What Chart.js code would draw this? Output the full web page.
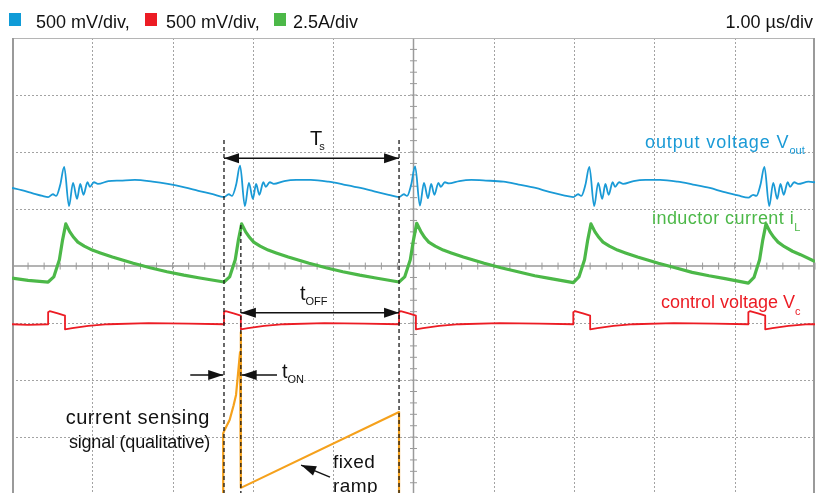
<!DOCTYPE html>
<html>
<head>
<meta charset="utf-8">
<script src="https://cdn.jsdelivr.net/npm/chart.js@4.4.0/dist/chart.umd.min.js"></script>
<style>
  body { margin: 0; background: #fff; }
  #wrap { position: relative; width: 818px; height: 493px; overflow: hidden;
          font-family: "Liberation Sans", Arial, Helvetica, sans-serif; color: #111; }
  canvas { position: absolute; left: 0; top: 0; }
  .lbl { position: absolute; white-space: nowrap; line-height: 1; }
  .lbl sub { font-size: 11px; vertical-align: baseline; position: relative; letter-spacing: 0; }
  .sq { position: absolute; width: 12px; height: 13px; top: 13px; }
  .hdr { font-size: 18px; top: 13px; }
  .ann { font-size: 18px; letter-spacing: 0.9px; }
  .big { font-size: 20px; }
</style>
</head>
<body>
<div id="wrap">
  <canvas id="scope" width="818" height="493"></canvas>

  <!-- header -->
  <div class="sq" style="left:9px;background:#0f9bd7"></div>
  <div class="lbl hdr" style="left:36px">500 mV/div,</div>
  <div class="sq" style="left:145px;background:#ec1c24"></div>
  <div class="lbl hdr" style="left:166px">500 mV/div,</div>
  <div class="sq" style="left:274px;background:#4cb848"></div>
  <div class="lbl hdr" style="left:293px">2.5A/div</div>
  <div class="lbl hdr" style="right:5px">1.00 &micro;s/div</div>

  <!-- trace names -->
  <div class="lbl ann" style="left:645px;top:133px;color:#1a9ad6">output voltage V<sub style="top:6px">out</sub></div>
  <div class="lbl ann" style="left:652px;top:209px;color:#4cb848;letter-spacing:0.45px">inductor current i<sub style="top:7px">L</sub></div>
  <div class="lbl ann" style="left:661px;top:293px;color:#ec1c24;letter-spacing:0px">control voltage V<sub style="top:7px">c</sub></div>

  <!-- timing marks -->
  <div class="lbl big" style="left:310px;top:128px">T<sub style="top:5px;margin-left:-3px">s</sub></div>
  <div class="lbl big" style="left:300px;top:283px">t<sub style="top:5px">OFF</sub></div>
  <div class="lbl big" style="left:282px;top:361px">t<sub style="top:5px">ON</sub></div>

  <!-- sensing signal notes -->
  <div class="lbl ann" style="right:608px;top:407px;letter-spacing:0.5px;font-size:20px">current sensing</div>
  <div class="lbl ann" style="right:608px;top:433px;letter-spacing:-0.2px;font-size:18px">signal (qualitative)</div>
  <div class="lbl ann" style="left:333px;top:452px;font-size:19px;letter-spacing:0.4px">fixed</div>
  <div class="lbl ann" style="left:333px;top:476px;font-size:19px;letter-spacing:0.4px">ramp</div>
</div>

<script>
// time in us (1 us/div), level in divisions (0 = screen centre)
const vOut = [
  [0, 1.37], [0.12, 1.33], [0.25, 1.28], [0.38, 1.23],
  [0.45, 1.21], [0.51, 1.26], [0.55, 1.23], [0.60, 1.42], [0.65, 1.74], [0.71, 1.05], [0.76, 1.46], [0.81, 1.18],
  [0.85, 1.44], [0.89, 1.25], [0.94, 1.47], [0.97, 1.39], [1.02, 1.47], [1.07, 1.44], [1.20, 1.49], [1.35, 1.50],
  [1.53, 1.51], [1.75, 1.48], [1.94, 1.44], [2.15, 1.38], [2.32, 1.32], [2.50, 1.26],
  [2.64, 1.21], [2.70, 1.26], [2.74, 1.23], [2.79, 1.42], [2.84, 1.76], [2.90, 1.05], [2.95, 1.46], [3.00, 1.18],
  [3.04, 1.44], [3.08, 1.25], [3.13, 1.47], [3.16, 1.39], [3.21, 1.47], [3.26, 1.44], [3.39, 1.49], [3.54, 1.51],
  [3.72, 1.51], [3.94, 1.48], [4.13, 1.43], [4.34, 1.37], [4.51, 1.31], [4.69, 1.25],
  [4.82, 1.21], [4.88, 1.26], [4.92, 1.23], [4.97, 1.42], [5.02, 1.75], [5.08, 1.06], [5.13, 1.46], [5.18, 1.19],
  [5.22, 1.44], [5.26, 1.25], [5.31, 1.46], [5.34, 1.39], [5.39, 1.47], [5.44, 1.45], [5.57, 1.49], [5.72, 1.51],
  [5.90, 1.50], [6.12, 1.48], [6.31, 1.43], [6.52, 1.37], [6.69, 1.30], [6.87, 1.24],
  [6.99, 1.21], [7.05, 1.26], [7.09, 1.23], [7.14, 1.42], [7.19, 1.74], [7.25, 1.05], [7.30, 1.46], [7.35, 1.18],
  [7.39, 1.44], [7.43, 1.25], [7.48, 1.47], [7.51, 1.39], [7.56, 1.47], [7.61, 1.44], [7.74, 1.49], [7.89, 1.51],
  [8.07, 1.51], [8.29, 1.48], [8.48, 1.43], [8.69, 1.37], [8.86, 1.30], [9.04, 1.24],
  [9.17, 1.20], [9.23, 1.25], [9.27, 1.23], [9.32, 1.42], [9.37, 1.74], [9.43, 1.05], [9.48, 1.46], [9.53, 1.18],
  [9.57, 1.44], [9.61, 1.25], [9.66, 1.47], [9.69, 1.39], [9.74, 1.47], [9.79, 1.44], [9.92, 1.48], [10, 1.47]
];

const iL = [
  [0, -0.21], [0.2, -0.25], [0.45, -0.28],
  [0.52, -0.19], [0.59, 0.11], [0.63, 0.46], [0.67, 0.74], [0.72, 0.60], [0.77, 0.50], [0.82, 0.42], [0.90, 0.35],
  [1.00, 0.28], [1.10, 0.23], [1.25, 0.16], [1.51, 0.05], [1.72, -0.03], [1.93, -0.10], [2.14, -0.16], [2.34, -0.21], [2.64, -0.28],
  [2.71, -0.19], [2.78, 0.11], [2.82, 0.46], [2.86, 0.74], [2.91, 0.60], [2.96, 0.50], [3.01, 0.42], [3.09, 0.35],
  [3.19, 0.28], [3.29, 0.23], [3.44, 0.16], [3.70, 0.05], [3.91, -0.03], [4.12, -0.10], [4.33, -0.16], [4.53, -0.21], [4.82, -0.28],
  [4.89, -0.19], [4.96, 0.11], [5.00, 0.46], [5.04, 0.75], [5.09, 0.61], [5.14, 0.50], [5.19, 0.42], [5.27, 0.35],
  [5.37, 0.28], [5.47, 0.23], [5.62, 0.16], [5.88, 0.05], [6.09, -0.03], [6.30, -0.10], [6.51, -0.17], [6.71, -0.22], [6.99, -0.29],
  [7.06, -0.19], [7.13, 0.11], [7.17, 0.46], [7.21, 0.74], [7.26, 0.60], [7.31, 0.50], [7.36, 0.42], [7.44, 0.35],
  [7.54, 0.28], [7.64, 0.23], [7.79, 0.16], [8.05, 0.05], [8.26, -0.03], [8.47, -0.11], [8.68, -0.17], [8.88, -0.22], [9.17, -0.30],
  [9.24, -0.20], [9.31, 0.11], [9.35, 0.46], [9.39, 0.74], [9.44, 0.60], [9.49, 0.50], [9.54, 0.42], [9.62, 0.34],
  [9.72, 0.26], [9.82, 0.20], [10, 0.08]
];

const vC = [
  [0, -1.02], [0.2, -1.03], [0.45, -1.02],
  [0.45, -0.81], [0.47, -0.79], [0.57, -0.83], [0.66, -0.87], [0.66, -1.11], [0.75, -1.09], [0.95, -1.05],
  [1.2, -1.02], [1.7, -1.00], [2.2, -1.01], [2.64, -1.02],
  [2.64, -0.81], [2.66, -0.79], [2.76, -0.83], [2.85, -0.87], [2.85, -1.11], [2.94, -1.09], [3.14, -1.05],
  [3.39, -1.02], [3.89, -1.00], [4.39, -1.01], [4.82, -1.02],
  [4.82, -0.81], [4.84, -0.79], [4.94, -0.83], [5.03, -0.87], [5.03, -1.11], [5.12, -1.09], [5.32, -1.05],
  [5.57, -1.02], [6.07, -1.00], [6.57, -1.01], [6.99, -1.02],
  [6.99, -0.81], [7.01, -0.79], [7.11, -0.83], [7.20, -0.87], [7.20, -1.11], [7.29, -1.09], [7.49, -1.05],
  [7.74, -1.02], [8.24, -1.00], [8.74, -1.01], [9.17, -1.02],
  [9.17, -0.81], [9.19, -0.79], [9.29, -0.83], [9.38, -0.87], [9.38, -1.11], [9.47, -1.09], [9.67, -1.05],
  [9.92, -1.02], [10, -1.02]
];

// qualitative current sensing signal + fixed ramp (one period)
const senseSignal = [
  [2.63, -4.1], [2.63, -2.93], [2.66, -2.84], [2.71, -2.70], [2.76, -2.44], [2.79, -2.26], [2.81, -1.96],
  [2.84, -1.51], [2.85, -1.16], [2.85, -3.89], [4.82, -2.56], [4.82, -4.1]
];

// switching instants used by the markers
const markerTimes = [2.64, 2.85, 4.82];
const markerTops = [2.21, 0.72, 2.21];

const gridTimes = [1, 2, 3, 4, 6, 7, 8, 9];
const gridLevels = [-3, -2, -1, 1, 2, 3];

const toPts = arr => arr.map(p => ({ x: p[0], y: p[1] }));

const trace = (data, color, width, order, smooth) => ({
  data: toPts(data), borderColor: color, borderWidth: width, showLine: true,
  pointRadius: 0, tension: 0, fill: false, order: order, borderJoinStyle: 'round',
  cubicInterpolationMode: smooth ? 'monotone' : 'default'
});

const markerSets = markerTimes.map((t, i) => ({
  data: [{ x: t, y: markerTops[i] }, { x: t, y: -4 }],
  borderColor: '#1a1a1a', borderWidth: 1.3, borderDash: [4, 3], showLine: true,
  pointRadius: 0, order: 0
}));

const scopeGrid = {
  id: 'scopeGrid',
  beforeDatasetsDraw(chart) {
    const { ctx, chartArea: a, scales: { x, y } } = chart;
    const seg = (x1, y1, x2, y2) => { ctx.beginPath(); ctx.moveTo(x1, y1); ctx.lineTo(x2, y2); ctx.stroke(); };
    ctx.save();
    ctx.strokeStyle = '#a3a3a3';
    ctx.lineWidth = 1;
    ctx.setLineDash([2, 2]);
    gridTimes.forEach(t => {
      const px = Math.round(x.getPixelForValue(t)) + 0.5;
      seg(px, a.top, px, a.bottom);
    });
    gridLevels.forEach(v => {
      const py = Math.round(y.getPixelForValue(v)) + 0.5;
      seg(a.left, py, a.right, py);
    });
    ctx.setLineDash([]);

    // centre axes with minor ticks
    ctx.strokeStyle = '#9a9a9a';
    ctx.lineWidth = 1.5;
    const cx = x.getPixelForValue(5), cy = y.getPixelForValue(0);
    seg(a.left, cy, a.right, cy);
    seg(cx, a.top, cx, a.bottom);
    ctx.lineWidth = 1;
    for (let t = 0.2; t < 10; t += 0.2) {
      const px = x.getPixelForValue(t);
      seg(px, cy - 3.5, px, cy + 3.5);
    }
    for (let v = -3.8; v < 4; v += 0.2) {
      const py = y.getPixelForValue(v);
      seg(cx - 3.5, py, cx + 3.5, py);
    }

    // frame
    ctx.strokeStyle = '#b5b5b5';
    ctx.lineWidth = 1;
    seg(a.left, a.top + 0.5, a.right, a.top + 0.5);
    ctx.strokeStyle = '#9a9a9a';
    ctx.lineWidth = 2;
    seg(a.left + 1, a.top, a.left + 1, a.bottom);
    seg(a.right - 1, a.top, a.right - 1, a.bottom);
    ctx.restore();
  }
};

const arrowMarks = {
  id: 'arrowMarks',
  afterDatasetsDraw(chart) {
    const { ctx, scales: { x, y } } = chart;
    const head = (fx, fy, tx, ty) => {
      const ang = Math.atan2(ty - fy, tx - fx), len = 15, w = 5;
      ctx.beginPath();
      ctx.moveTo(tx, ty);
      ctx.lineTo(tx - len * Math.cos(ang) + w * Math.sin(ang), ty - len * Math.sin(ang) - w * Math.cos(ang));
      ctx.lineTo(tx - len * Math.cos(ang) - w * Math.sin(ang), ty - len * Math.sin(ang) + w * Math.cos(ang));
      ctx.closePath();
      ctx.fill();
    };
    const arrow = (t1, v1, t2, v2, both) => {
      const x1 = x.getPixelForValue(t1), y1 = y.getPixelForValue(v1);
      const x2 = x.getPixelForValue(t2), y2 = y.getPixelForValue(v2);
      ctx.beginPath(); ctx.moveTo(x1, y1); ctx.lineTo(x2, y2); ctx.stroke();
      head(x1, y1, x2, y2);
      if (both) head(x2, y2, x1, y1);
    };
    ctx.save();
    ctx.strokeStyle = '#111';
    ctx.fillStyle = '#111';
    ctx.lineWidth = 1.4;
    arrow(markerTimes[0], 1.89, markerTimes[2], 1.89, true);    // Ts
    arrow(markerTimes[1], -0.82, markerTimes[2], -0.82, true);  // tOFF
    arrow(2.22, -1.91, markerTimes[0] - 0.01, -1.91, false);    // tON, left side
    arrow(3.30, -1.91, markerTimes[1] + 0.01, -1.91, false);    // tON, right side
    arrow(3.96, -3.70, 3.60, -3.49, false);                     // fixed ramp pointer
    ctx.restore();
  }
};

new Chart(document.getElementById('scope'), {
  type: 'scatter',
  data: {
    datasets: [
      ...markerSets,
      trace(vOut, '#1a9ad6', 1.8, 1, true),
      trace(iL, '#4cb848', 3.2, 2, false),
      trace(vC, '#ec1c24', 1.8, 3, false),
      trace(senseSignal, '#f5a11c', 2.2, 4, false)
    ]
  },
  options: {
    responsive: false,
    animation: false,
    devicePixelRatio: 1,
    layout: { padding: { left: 12, right: 3, top: 38, bottom: 0 } },
    plugins: { legend: { display: false }, tooltip: { enabled: false } },
    scales: {
      x: { type: 'linear', min: 0, max: 10, display: false },
      y: { type: 'linear', min: -3.98, max: 4, display: false }
    }
  },
  plugins: [scopeGrid, arrowMarks]
});
</script>
</body>
</html>
